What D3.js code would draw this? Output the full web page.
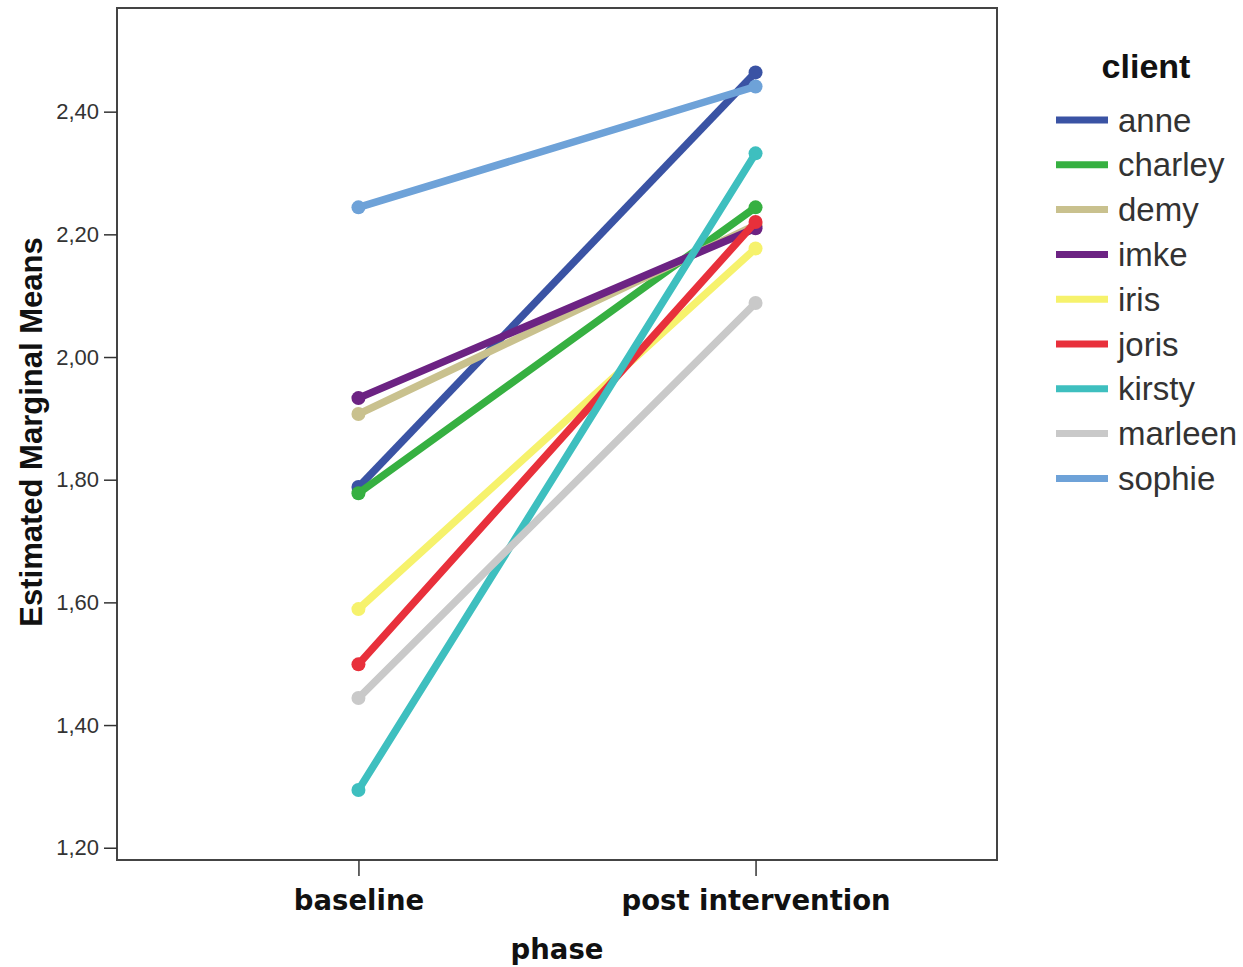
<!DOCTYPE html>
<html><head><meta charset="utf-8">
<script src="https://cdn.jsdelivr.net/npm/d3@7"></script>
<style>body{margin:0;background:#fff}svg{display:block}</style>
</head><body>
<script>
const phases = ["baseline", "post intervention"];
const clients = ["anne","charley","demy","imke","iris","joris","kirsty","marleen","sophie"];
const baselineMeans = [1.788, 1.778, 1.907, 1.933, 1.589, 1.499, 1.294, 1.444, 2.244];
const postMeans     = [2.464, 2.244, 2.215, 2.210, 2.177, 2.220, 2.332, 2.088, 2.441];
const colors = ["#3a53a4","#36b041","#c9c18e","#6c2383","#f6f26c","#e8303b","#3ebfbf","#c9c9c9","#6ea2d8"];
const yTicks = [1.2,1.4,1.6,1.8,2.0,2.2,2.4];

const W = 1243, H = 967;
const svg = d3.select("body").append("svg").attr("width", W).attr("height", H);
const L = 117, R = 997, T = 8, B = 860;

const x = d3.scalePoint().domain(phases).range([L, R]).padding(0.608);
const y = d3.scaleLinear().domain([1.18, 2.569]).range([B, T]);

svg.append("rect").attr("x", L).attr("y", T).attr("width", R - L).attr("height", B - T)
  .attr("fill", "none").attr("stroke", "#444").attr("stroke-width", 2);

const fmt = d => d.toFixed(2).replace(".", ",");
const yAxis = svg.append("g").attr("transform", `translate(${L},0)`)
  .call(d3.axisLeft(y).tickValues(yTicks).tickFormat(fmt).tickSize(13).tickPadding(5));
yAxis.select(".domain").remove();
yAxis.selectAll("line").attr("stroke", "#333").attr("stroke-width", 1.5);
yAxis.selectAll("text").attr("font-family", "Liberation Sans, Arial, sans-serif").attr("font-size", 22).attr("fill", "#333");

const xAxis = svg.append("g").attr("transform", `translate(0,${B})`)
  .call(d3.axisBottom(x).tickSize(16).tickPadding(9));
xAxis.select(".domain").remove();
xAxis.selectAll("line").attr("stroke", "#333").attr("stroke-width", 1.5);
xAxis.selectAll("text").attr("font-family", "DejaVu Sans, sans-serif").attr("font-weight", "bold")
  .attr("font-size", 27.5).attr("fill", "#111").attr("dy", "0.9em");

svg.append("text").attr("x", (L + R) / 2).attr("y", 959).attr("text-anchor", "middle")
  .attr("font-family", "DejaVu Sans, sans-serif").attr("font-weight", "bold").attr("font-size", 27.5)
  .attr("fill", "#111").text("phase");

svg.append("text").attr("transform", `translate(42,${(T + B) / 2 - 2}) rotate(-90)`).attr("text-anchor", "middle")
  .attr("font-family", "Liberation Sans, Arial, sans-serif").attr("font-weight", "bold").attr("font-size", 31)
  .attr("fill", "#111").text("Estimated Marginal Means");

const data = clients.map((c, i) => ({name: c, color: colors[i],
  values: [{p: phases[0], v: baselineMeans[i]}, {p: phases[1], v: postMeans[i]}]}));

const line = d3.line().x(d => x(d.p)).y(d => y(d.v));
const g = svg.append("g");
data.forEach(s => {
  g.append("path").attr("d", line(s.values)).attr("fill", "none").attr("stroke", s.color)
    .attr("stroke-width", 7.5).attr("stroke-linecap", "round");
  g.selectAll(null).data(s.values).enter().append("circle")
    .attr("cx", d => x(d.p)).attr("cy", d => y(d.v)).attr("r", 7).attr("fill", s.color);
});

const lg = svg.append("g");
lg.append("text").attr("x", 1146).attr("y", 78).attr("text-anchor", "middle")
  .attr("font-family", "Liberation Sans, Arial, sans-serif").attr("font-weight", "bold").attr("font-size", 34)
  .attr("fill", "#111").text("client");
data.forEach((s, i) => {
  const yy = 120 + i * 44.8;
  lg.append("line").attr("x1", 1056).attr("x2", 1108).attr("y1", yy).attr("y2", yy)
    .attr("stroke", s.color).attr("stroke-width", 7);
  lg.append("text").attr("x", 1118).attr("y", yy).attr("dy", "0.35em")
    .attr("font-family", "Liberation Sans, Arial, sans-serif").attr("font-size", 33).attr("fill", "#333")
    .text(s.name);
});
</script>
</body></html>
